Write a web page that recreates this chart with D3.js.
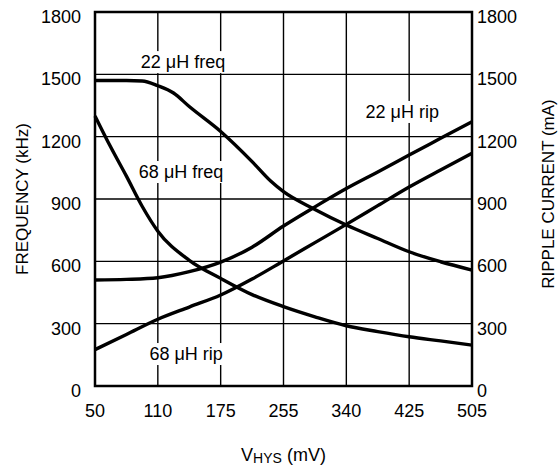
<!DOCTYPE html>
<html>
<head>
<meta charset="utf-8">
<script src="https://cdn.jsdelivr.net/npm/d3@7"></script>
<style>
  body { margin: 0; background: #fff; }
  text { font-family: "Liberation Sans", Arial, sans-serif; fill: #000; }
</style>
</head>
<body>
<script>
// x axis categories (evenly spaced on the plot)
var xLabels = ["50", "110", "175", "255", "340", "425", "505"]
var yTicks = [0, 300, 600, 900, 1200, 1500, 1800]

// positions along the x axis, in category steps (0 = 50 mV, 6 = 505 mV)
var freq22X = [0, 0.5, 0.75, 1, 1.25, 1.5, 2, 2.5, 2.8, 3, 3.5, 4, 4.5, 5, 5.5, 6]
var freq22  = [1470, 1470, 1468, 1445, 1410, 1345, 1225, 1080, 985, 935, 850, 775, 710, 646, 598, 558]

var freq68X = [0, 0.25, 0.5, 0.75, 1, 1.5, 2, 2.5, 3, 3.5, 4, 4.5, 5, 5.5, 6]
var freq68  = [1300, 1150, 1010, 865, 745, 605, 518, 440, 382, 333, 290, 262, 237, 217, 197]

var ripX  = [0, 0.5, 1, 1.5, 2, 2.5, 3, 3.5, 4, 4.5, 5, 5.5, 6]
var rip22 = [510, 513, 521, 550, 596, 668, 770, 862, 950, 1030, 1112, 1192, 1272]
var rip68 = [175, 248, 321, 380, 438, 515, 602, 690, 778, 868, 958, 1040, 1120]

var seriesNames = ["22 \u03bcH freq", "68 \u03bcH freq", "22 \u03bcH rip", "68 \u03bcH rip"]

var W = 558, H = 466
var margin = {top: 12, right: 86, bottom: 80, left: 95}

var svg = d3.select("body").append("svg")
  .attr("width", W)
  .attr("height", H)

var xScale = d3.scaleLinear().domain([0, 6]).range([margin.left, W - margin.right])
var yScale = d3.scaleLinear().domain([0, 1800]).range([H - margin.bottom, margin.top])

var x0 = xScale(0), x1 = xScale(6), yB = yScale(0), yT = yScale(1800)

// grid
var grid = svg.append("g").attr("stroke", "#000").attr("stroke-width", 1.4)
grid.selectAll(".vg").data(d3.range(1, 6)).enter().append("line")
  .attr("x1", function(d) { return xScale(d) }).attr("x2", function(d) { return xScale(d) })
  .attr("y1", yT).attr("y2", yB)
grid.selectAll(".hg").data(yTicks.slice(1, -1)).enter().append("line")
  .attr("x1", x0).attr("x2", x1)
  .attr("y1", function(d) { return yScale(d) }).attr("y2", function(d) { return yScale(d) })

// series labels with white boxes over the grid
var labels = [
  {t: seriesNames[0], x: 1.40, y: 1530},
  {t: seriesNames[1], x: 1.37, y: 1001},
  {t: seriesNames[2], x: 4.89, y: 1290},
  {t: seriesNames[3], x: 1.45, y: 125}
]
var lg = svg.append("g")
labels.forEach(function(l) {
  var g = lg.append("g")
  var t = g.append("text")
    .attr("x", xScale(l.x)).attr("y", yScale(l.y))
    .attr("text-anchor", "middle")
    .style("font-size", "18px")
    .text(l.t)
  var b = t.node().getBBox()
  g.insert("rect", "text")
    .attr("x", b.x - 1).attr("y", b.y - 1)
    .attr("width", b.width + 2).attr("height", b.height + 2)
    .attr("fill", "#fff")
})

// frame
svg.append("rect")
  .attr("x", x0).attr("y", yT)
  .attr("width", x1 - x0).attr("height", yB - yT)
  .attr("fill", "none").attr("stroke", "#000").attr("stroke-width", 2.5)

// curves
var line = d3.line()
  .x(function(d) { return xScale(d[0]) })
  .y(function(d) { return yScale(d[1]) })
  .curve(d3.curveMonotoneX)

var curves = [
  d3.zip(freq22X, freq22),
  d3.zip(freq68X, freq68),
  d3.zip(ripX, rip22),
  d3.zip(ripX, rip68)
]
svg.append("g").selectAll("path").data(curves).enter().append("path")
  .attr("d", line)
  .attr("fill", "none")
  .attr("stroke", "#000")
  .attr("stroke-width", 3.4)
  .attr("stroke-linejoin", "round")

// tick labels
svg.append("g").selectAll("text").data(yTicks).enter().append("text")
  .attr("x", x0 - 14).attr("y", function(d) { return yScale(d) + 11 })
  .attr("text-anchor", "end")
  .style("font-size", "18px")
  .text(function(d) { return d })
svg.append("g").selectAll("text").data(yTicks).enter().append("text")
  .attr("x", x1 + 5).attr("y", function(d) { return yScale(d) + 11 })
  .attr("text-anchor", "start")
  .style("font-size", "18px")
  .text(function(d) { return d })
svg.append("g").selectAll("text").data(xLabels).enter().append("text")
  .attr("x", function(d, i) { return xScale(i) }).attr("y", yB + 31)
  .attr("text-anchor", "middle")
  .style("font-size", "18px")
  .text(function(d) { return d })

// axis titles
svg.append("text")
  .attr("transform", "translate(28," + ((yT + yB) / 2) + ")rotate(-90)")
  .attr("text-anchor", "middle")
  .style("font-size", "17px")
  .text("FREQUENCY (kHz)")
svg.append("text")
  .attr("transform", "translate(554," + ((yT + yB) / 2 - 5) + ")rotate(-90)")
  .attr("text-anchor", "middle")
  .style("font-size", "17px")
  .text("RIPPLE CURRENT (mA)")

var xt = svg.append("text")
  .attr("x", (x0 + x1) / 2).attr("y", 461)
  .attr("text-anchor", "middle")
  .style("font-size", "18px")
xt.append("tspan").text("V")
xt.append("tspan").attr("dy", 2).style("font-size", "14px").text("HYS")
xt.append("tspan").attr("dy", -2).text(" (mV)")
</script>
</body>
</html>
